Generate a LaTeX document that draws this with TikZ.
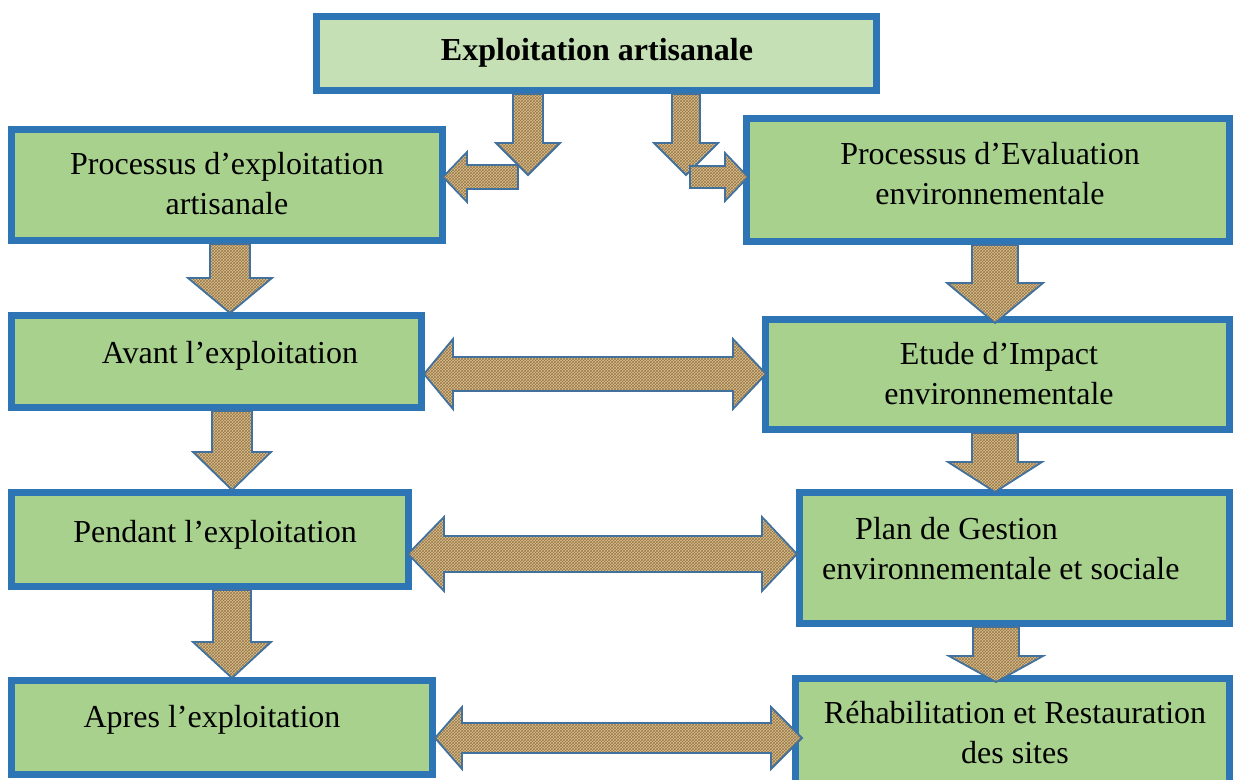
\documentclass[tikz,border=0pt]{standalone}
\usepackage{fontspec}
\setmainfont{Liberation Serif}
\usetikzlibrary{patterns}
\definecolor{boxblue}{HTML}{2E75B6}
\definecolor{boxgreen}{HTML}{A9D18E}
\definecolor{titlegreen}{HTML}{C5E0B4}
\definecolor{burlap}{HTML}{D9C294}
\definecolor{burlapdark}{HTML}{9A7845}
\definecolor{arrowedge}{HTML}{41719C}
\tikzset{
  box/.style={draw=boxblue, line width=7pt, fill=boxgreen, rectangle, inner sep=0pt},
  titlebox/.style={box, fill=titlegreen},
  label/.style={inner sep=0pt, align=center, font=\fontsize{32}{40}\selectfont},
  fatarrow/.style={draw=arrowedge, line width=1.8pt, line join=miter,
    preaction={fill=burlap}, pattern=crosshatch, pattern color=burlapdark}
}
% down arrow: xc, ytop, ybase, ytip, shaft half, head half
\newcommand\fatdown[6]{\draw[fatarrow] (#1-#5,#2) -- (#1+#5,#2) -- (#1+#5,#3) -- (#1+#6,#3) -- (#1,#4) -- (#1-#6,#3) -- (#1-#5,#3) -- cycle;}
% horizontal single arrow: xtip, xbase, xend, yc, shaft half, head half
\newcommand\fathoriz[6]{\draw[fatarrow] (#1,#4) -- (#2,#4-#6) -- (#2,#4-#5) -- (#3,#4-#5) -- (#3,#4+#5) -- (#2,#4+#5) -- (#2,#4+#6) -- cycle;}
% double arrow: xltip, xlbase, xrbase, xrtip, yc, shaft half, head half
\newcommand\fatdouble[7]{\draw[fatarrow] (#1,#5) -- (#2,#5-#7) -- (#2,#5-#6) -- (#3,#5-#6) -- (#3,#5-#7) -- (#4,#5) -- (#3,#5+#7) -- (#3,#5+#6) -- (#2,#5+#6) -- (#2,#5+#7) -- cycle;}
\begin{document}
\begin{tikzpicture}[x=1pt,y=-1pt]
\path[use as bounding box] (0,0) rectangle (1234,779);
\clip (0,0) rectangle (1234,779);

% boxes
\node[titlebox, minimum width=560pt, minimum height=74pt] (title) at (596.5,53.5) {};
\node[box, minimum width=431pt, minimum height=111pt] (pexp) at (227,185) {};
\node[box, minimum width=483pt, minimum height=123pt] (peval) at (988,180) {};
\node[box, minimum width=410pt, minimum height=92pt] (avant) at (216.5,361.5) {};
\node[box, minimum width=464pt, minimum height=110pt] (etude) at (997.5,374.5) {};
\node[box, minimum width=397pt, minimum height=94pt] (pendant) at (210,539.5) {};
\node[box, minimum width=430pt, minimum height=131pt] (plan) at (1014.5,558) {};
\node[box, minimum width=421pt, minimum height=94pt] (apres) at (222,727.5) {};
\node[box, minimum width=434pt, minimum height=113pt] (rehab) at (1012.5,735) {};

% texts
\node[label, font=\fontsize{32}{40}\selectfont\bfseries] (ttitle) at (597,53) {Exploitation artisanale};
\node[label] (tpexp) at (227,184) {Processus d’exploitation\\artisanale};
\node[label] (tpeval) at (990,174) {Processus d’Evaluation\\environnementale};
\node[label] (tavant) at (230,356) {Avant l’exploitation};
\node[label] (tetude) at (999,374) {Etude d’Impact\\environnementale};
\node[label] (tpendant) at (215,535) {Pendant l’exploitation};
\node[label, anchor=west, align=left] (tplan) at (822,549) {\hspace*{33pt}Plan de Gestion\\environnementale et sociale};
\node[label] (tapres) at (212,720) {Apres l’exploitation};
\node[label] (trehab) at (1015,733) {Réhabilitation et Restauration\\des sites};

% top split arrows
\fatdown{528}{94}{143}{175}{15}{32}
\fathoriz{443}{467}{518}{177}{12}{25}
\fatdown{686}{94}{143}{175}{14}{32}
\fathoriz{748}{725}{690}{177}{11}{24}

% left column
\fatdown{230}{244}{278}{313}{20}{42}
\fatdown{232}{411}{452}{490}{20}{39}
\fatdown{232}{590}{642}{678}{19}{39}

% right column
\fatdown{995}{245}{283}{323}{23}{48}
\fatdown{995}{433}{462}{492}{23}{47}
\fatdown{996}{627}{656}{682}{23}{47}

% double arrows
\fatdouble{424}{453}{733}{766}{374}{17}{35}
\fatdouble{408}{444}{762}{797}{554}{18}{37}
\fatdouble{435}{462}{771}{802}{738}{15}{31}
\end{tikzpicture}
\end{document}
